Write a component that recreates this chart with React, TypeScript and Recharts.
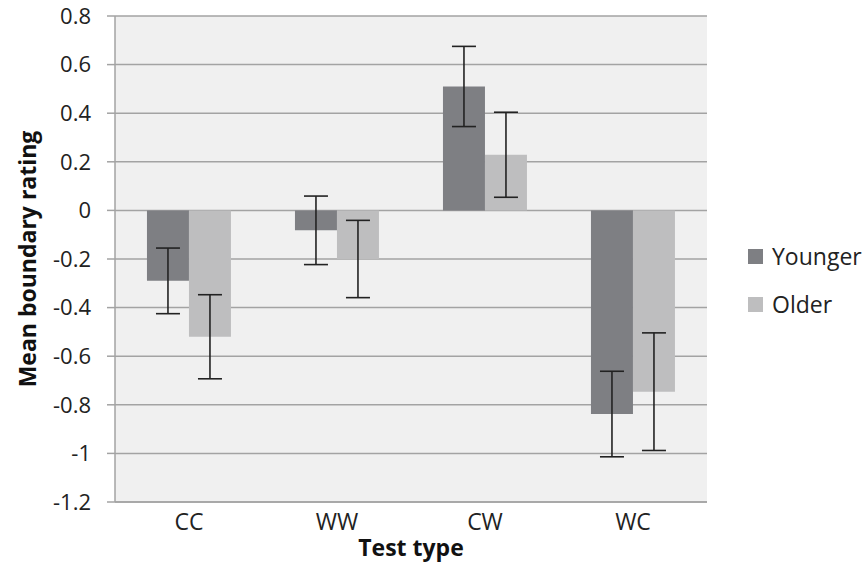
import { Bar, BarChart, CartesianGrid, ErrorBar, Legend, XAxis, YAxis } from 'recharts'

const categories = ['CC', 'WW', 'CW', 'WC']
const younger = [-0.29, -0.082, 0.51, -0.838]
const older = [-0.52, -0.2, 0.229, -0.746]
const youngerErr = [0.135, 0.141, 0.165, 0.176]
const olderErr = [0.173, 0.159, 0.175, 0.242]
const yTicks = [-1.2, -1, -0.8, -0.6, -0.4, -0.2, 0, 0.2, 0.4, 0.6, 0.8]

const data = categories.map((name, i) => ({
  name,
  younger: younger[i],
  older: older[i],
  youngerErr: youngerErr[i],
  olderErr: olderErr[i],
}))

const font = '"Open Sans", sans-serif'
const axisGray = '#a3a3a3'

const seriesLegend = [
  { label: 'Younger', color: '#7e7f83' },
  { label: 'Older', color: '#bebebf' },
]

function renderLegend() {
  return (
    <div style={{ fontFamily: font }}>
      {seriesLegend.map((s) => (
        <div key={s.label} style={{ display: 'flex', alignItems: 'center', height: 48 }}>
          <span style={{ width: 15, height: 15, background: s.color, display: 'inline-block', marginRight: 9 }} />
          <span style={{ fontSize: 23, color: '#222' }}>{s.label}</span>
        </div>
      ))}
    </div>
  )
}

export default function App() {
  return (
    <div style={{ position: 'absolute', left: 0, top: 0, background: '#fff' }}>
      <BarChart
        width={868}
        height={563}
        data={data}
        margin={{ top: 16, right: 41, bottom: 0, left: 0 }}
        barCategoryGap='21.6%'
        barGap={0}
      >
        <CartesianGrid vertical={false} stroke={axisGray} strokeWidth={1.5} fill='#f0f0f0' />
        <XAxis
          dataKey='name'
          height={61}
          tickLine={false}
          tickSize={0}
          tickMargin={12}
          axisLine={{ stroke: axisGray, strokeWidth: 1.5 }}
          tick={{ fill: '#222', fontSize: 23, fontFamily: font }}
          label={{
            value: 'Test type',
            position: 'insideBottom',
            offset: 7,
            style: { fill: '#111', fontSize: 23, fontWeight: 700, fontFamily: font },
          }}
        />
        <YAxis
          width={115}
          domain={[-1.2, 0.8]}
          ticks={yTicks}
          interval={0}
          tickSize={8}
          tickMargin={16}
          tickLine={{ stroke: axisGray, strokeWidth: 1.5 }}
          axisLine={{ stroke: axisGray, strokeWidth: 1.5 }}
          tick={{ fill: '#222', fontSize: 22, fontFamily: font }}
          label={{
            value: 'Mean boundary rating',
            angle: -90,
            position: 'insideLeft',
            offset: 28,
            style: { textAnchor: 'middle', fill: '#111', fontSize: 23, fontWeight: 700, fontFamily: font },
          }}
        />
        <Legend
          layout='vertical'
          align='right'
          verticalAlign='middle'
          content={renderLegend}
          wrapperStyle={{ left: 748, right: 'auto', top: 232, width: 120 }}
        />
        <Bar dataKey='younger' name='Younger' fill='#7e7f83' isAnimationActive={false}>
          <ErrorBar dataKey='youngerErr' width={12} stroke='#222' strokeWidth={1.6} isAnimationActive={false} />
        </Bar>
        <Bar dataKey='older' name='Older' fill='#bebebf' isAnimationActive={false}>
          <ErrorBar dataKey='olderErr' width={12} stroke='#222' strokeWidth={1.6} isAnimationActive={false} />
        </Bar>
      </BarChart>
    </div>
  )
}
